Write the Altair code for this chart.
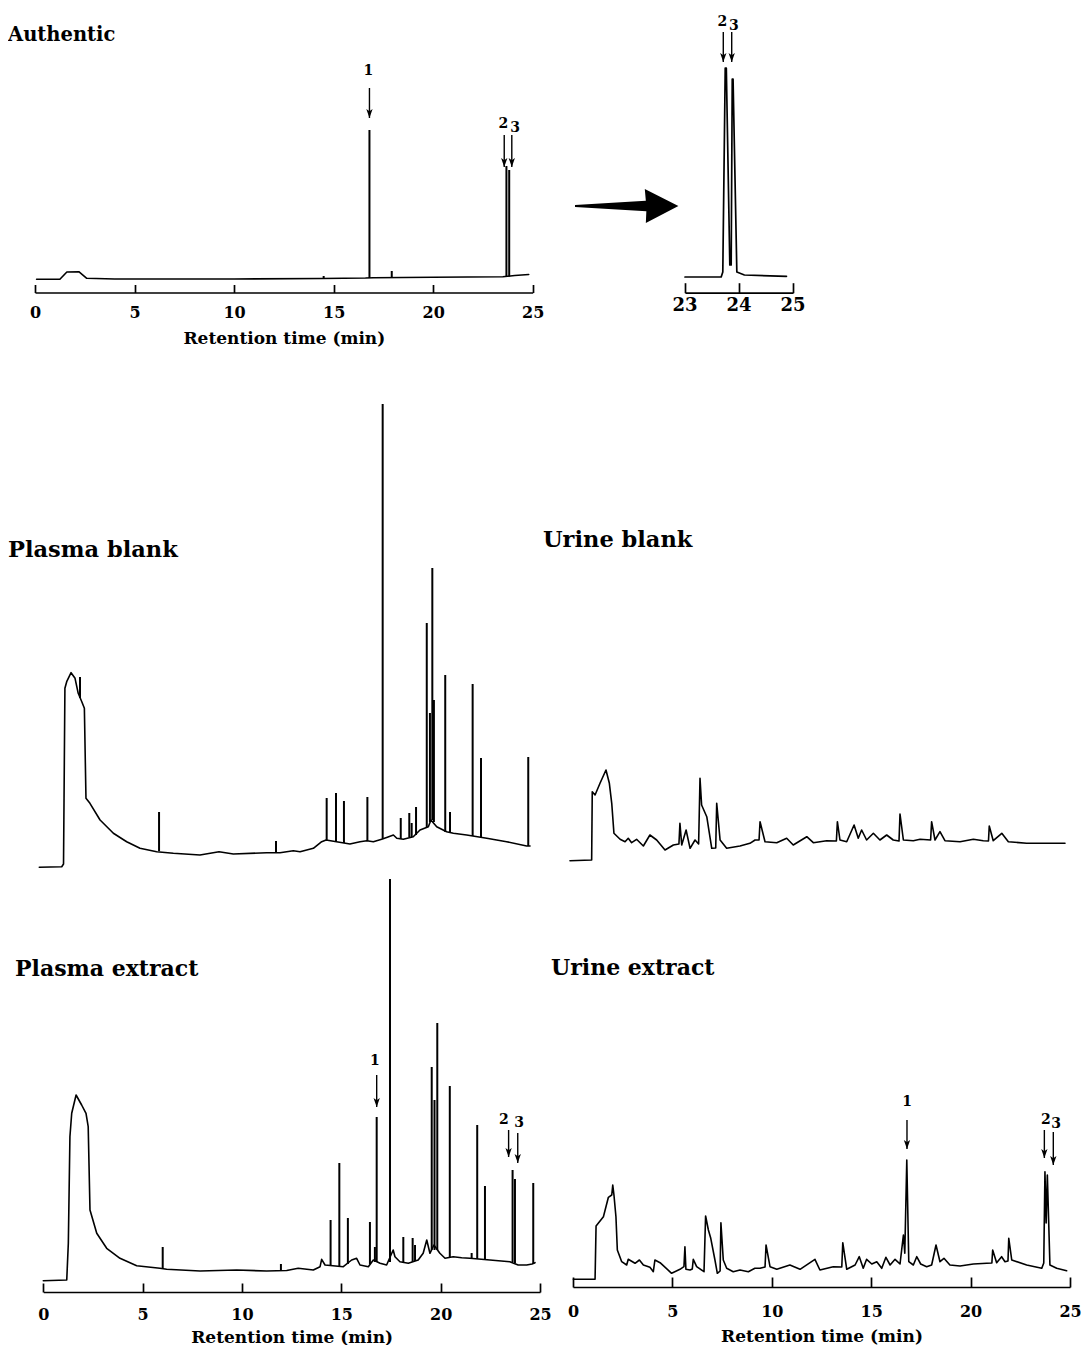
import altair as alt
import pandas as pd

FONT = "DejaVu Serif"
OX, OY = 8, 8          # page margin: plot origin on the page
W, H = 1074, 1337

# ---------------- Authentic (0-25 min) ----------------
au_t = [0.08, 1.25, 1.6, 2.2, 2.6, 4.0, 10.0, 14.4, 16.6, 17.0, 20.0, 23.5, 24.1, 24.8]
au_v = [5.7, 5.7, 13, 13.3, 6.7, 6, 6, 6.5, 7, 7.3, 7.7, 8.3, 9.5, 10.5]
au_pk_t = [14.5, 16.8, 17.92, 23.68, 23.82]
au_pk_top = [9, 155, 14, 119, 115]
au_pk_foot = [6.5, 7, 7.3, 8.3, 8.5]
au_lab = ["1", "2", "3"]
au_lab_t = [16.75, 23.53, 24.12]
au_lab_v = [214, 161, 157]
au_arr_t = [16.8, 23.57, 23.95]
au_arr_top = [197, 150, 150]
au_arr_tip = [167, 118, 118]
ticks_main = [0, 5, 10, 15, 20, 25]

# ---------------- Inset (23-25 min) ----------------
in_t = [23.0, 23.67, 23.70, 23.745, 23.765, 23.83, 23.855, 23.875, 23.89, 23.96, 24.1, 24.88]
in_v = [8, 8, 13, 217, 217, 20, 20, 206, 206, 13, 10, 8.7]
in_lab = ["2", "3"]
in_lab_t = [23.69, 23.907]
in_lab_v = [263, 259]
in_arr_t = [23.709, 23.865]
in_arr_top = [253, 253]
in_arr_tip = [223, 223]
ticks_inset = [23, 24, 25]
ticks_inset_text = ["23", "24", "25"]

# ---------------- Plasma blank ----------------
pb_t = [0.04, 1.17, 1.26, 1.33, 1.42, 1.64, 1.84, 2.0, 2.18, 2.31, 2.39, 2.59, 3.10, 3.77,
        4.44, 5.11, 5.95, 6.79, 8.13, 9.09, 9.81, 11.49, 12.16, 12.83, 13.17, 13.84, 14.26,
        14.48, 15.68, 16.19, 16.53, 16.86, 17.28, 17.6, 17.87, 18.04, 18.37, 18.87, 19.21,
        19.63, 19.76, 20.05, 20.55, 20.89, 21.56, 22.57, 23.57, 24.58, 24.75]
pb_v = [2.7, 3.3, 6, 181.7, 188.3, 197.3, 191.7, 176.7, 168.3, 161.7, 71.7, 66.7, 50, 36.7,
        28.3, 21.7, 18.3, 16.7, 15, 18.3, 16, 17.3, 17.3, 19.3, 18.3, 21.7, 28.3,
        30, 26, 28.3, 29.3, 28.3, 30.7, 33, 35, 31.7, 30.7, 33.3, 40,
        43.3, 50, 43.3, 38.3, 36.7, 35, 31.7, 28.3, 24, 24]
pb_pk_t = [2.09, 6.07, 11.96, 14.51, 14.98, 15.38, 16.56, 17.33, 18.24, 18.67, 18.79, 19.01,
           19.55, 19.71, 19.83, 19.91, 20.48, 20.72, 21.86, 22.28, 24.66]
pb_pk_top = [193, 58, 29, 72, 77, 69, 73, 466, 52, 57, 47, 63,
             247, 157, 302, 170, 195, 58, 186, 112, 113]
pb_pk_foot = [172, 19, 17, 30, 28, 27, 29, 31, 31, 33, 33, 35,
              43, 48, 50, 48, 38, 37, 34, 33, 24]

# ---------------- Urine blank ----------------
ub_t = [0.05, 1.14, 1.17, 1.31, 1.56, 1.86, 2.03, 2.15, 2.26, 2.57,
        2.82, 2.98, 3.15, 3.4, 3.74, 4.07, 4.41, 4.83, 5.25, 5.53, 5.58,
        5.67, 5.89, 6.09, 6.34, 6.52, 6.59, 6.67, 6.93, 7.18, 7.38, 7.43, 7.6,
        7.93, 8.6, 9.1, 9.36, 9.56, 9.61, 9.86, 10.45, 10.95, 11.28, 11.96,
        12.29, 12.96, 13.45, 13.5, 13.63, 13.97, 14.34, 14.55, 14.72, 14.97, 15.31,
        15.64, 15.98, 16.31, 16.6, 16.65, 16.82, 17.32, 17.66, 18.19, 18.24, 18.41, 18.66,
        18.91, 19.67, 20.34, 20.84, 21.1, 21.14, 21.34, 21.77, 22.1, 23.02, 23.86, 24.95]
ub_v = [3.3, 4, 72.3, 69, 80.7, 94, 80.7, 60.7, 30.7, 24.7,
        22.3, 25.7, 21.3, 24.7, 18, 29, 24, 14, 19, 20, 40.7,
        19, 34, 15.7, 24, 20, 85.7, 59, 47.3, 15.7, 16, 60.7, 24,
        15.7, 18, 20.7, 24, 24, 42.3, 22.3, 21.3, 25.7, 19, 27.3,
        21.3, 23.3, 23, 42.3, 24, 22.3, 39, 25.7, 34, 24, 30.7,
        24, 29, 24, 23, 50, 24, 23.3, 24.7, 24, 42.3, 24, 32.3,
        23.3, 22.3, 24.7, 23.3, 23, 38, 23.3, 30.7, 22.3, 20.7, 20.7, 20.7]

# ---------------- Plasma extract ----------------
pe_t = [0.0, 1.18, 1.26, 1.34, 1.43, 1.65, 1.93, 2.15, 2.26, 2.35, 2.69, 3.19, 3.86, 4.7,
        5.87, 6.21, 7.89, 9.73, 11.24, 12.25, 12.83, 13.59, 13.93, 14.01, 14.18, 15.1,
        15.52, 15.77, 15.94, 16.36, 16.61, 16.95, 17.28, 17.61, 17.7, 17.95, 18.37, 18.87,
        19.12, 19.3, 19.46, 19.66, 19.96, 20.22, 20.63, 21.06, 21.47, 22.48, 23.48, 23.9,
        24.33, 24.6, 24.75]
pe_v = [3.3, 4, 40.7, 147.3, 170.7, 189, 179, 170.7, 157.3, 74, 50.7, 35.7, 25.7, 18.3,
        15.7, 14.7, 13, 14, 13, 13.5, 15.7, 14, 17.3, 24.7, 19, 17.3,
        24, 25.7, 19, 17.3, 24, 20.7, 19, 34, 27.3, 22.3, 20.7, 24,
        30.7, 44, 30.7, 39, 30.7, 25.7, 27.3, 26.3, 25.7, 24, 22.3, 19,
        19, 20, 21.3]
pe_pk_t = [6.01, 11.96, 14.46, 14.9, 15.33, 16.44, 16.69, 16.78, 17.45, 18.12, 18.59, 18.71,
           19.55, 19.69, 19.83, 20.46, 21.56, 21.84, 22.23, 23.62, 23.74, 24.66]
pe_pk_top = [37, 20, 64, 121, 66, 62, 37, 167, 405, 47, 46, 39,
             217, 184, 261, 198, 31, 159, 98, 114, 105, 101]
pe_pk_foot = [15, 13.5, 18, 18, 20, 20, 22, 22, 22, 22, 22, 23,
              34, 34, 34, 27, 26, 25, 25, 22, 21, 20]
pe_lab = ["1", "2", "3"]
pe_lab_t = [16.69, 23.18, 23.95]
pe_lab_v = [223, 164, 161]
pe_arr_t = [16.78, 23.42, 23.88]
pe_arr_top = [209, 154, 151]
pe_arr_tip = [177, 127, 121]

# ---------------- Urine extract ----------------
ue_t = [0.02, 1.11, 1.16, 1.27, 1.53, 1.78, 1.95, 2.0, 2.06, 2.16, 2.23, 2.45, 2.7, 2.78,
        3.12, 3.34, 3.54, 3.87, 4.04, 4.12, 4.38, 4.96, 5.38, 5.58, 5.63, 5.68, 5.89, 6.0,
        6.05, 6.22, 6.59, 6.67, 6.81, 6.93, 7.14, 7.26, 7.4, 7.44, 7.56, 7.73, 8.06, 8.4,
        8.82, 9.15, 9.41, 9.66, 9.71, 9.91, 10.25, 10.91, 11.42, 12.17, 12.42, 13.09, 13.52,
        13.57, 13.77, 14.19, 14.4, 14.6, 14.77, 15.03, 15.28, 15.53, 15.74, 15.95, 16.2,
        16.45, 16.62, 16.69, 16.79, 16.89, 17.12, 17.29, 17.49, 17.79, 18.04, 18.26, 18.46,
        18.66, 18.96, 19.47, 20.14, 20.81, 21.07, 21.11, 21.31, 21.56, 21.73, 21.88, 21.92,
        22.07, 22.82, 23.58, 23.68, 23.74, 23.8, 23.86, 23.99, 24.33, 24.83]
ue_v = [3.7, 3.7, 57, 59.7, 66.3, 85.7, 88, 98, 88, 66.3, 33, 21.3, 18, 23.7,
        19.7, 23, 18, 15.7, 11.3, 23, 20.3, 9.7, 13.7, 16.3, 36.3, 13.7, 13, 14,
        23.7, 16.3, 11.3, 67, 53, 44.7, 23, 9.7, 12, 60.3, 23, 14.7, 11.3, 13,
        11.3, 14.7, 14.7, 16, 38, 16.3, 13.7, 18, 13.7, 23.7, 13, 16.3, 16,
        40.3, 13.7, 18, 26.3, 14.7, 23.7, 19, 21.3, 14.7, 25.7, 18, 23.7,
        19, 48, 29.7, 123, 21.3, 18, 26.3, 19, 16.3, 18, 38, 21.3,
        24.7, 18, 17, 19, 19.7, 20, 33, 20.3, 26.3, 21.3, 22, 44.7,
        23, 18, 14.7, 20, 111.3, 60, 108, 18, 14.7, 12.3]
ue_lab = ["1", "2", "3"]
ue_lab_t = [16.81, 23.79, 24.3]
ue_lab_v = [181, 163, 159]
ue_arr_t = [16.8, 23.71, 24.16]
ue_arr_top = [163, 153, 151]
ue_arr_tip = [134, 125, 118]

# ---------------- panel titles ----------------
titles = ["Authentic", "Plasma blank", "Urine blank", "Plasma extract", "Urine extract"]
axis_title = "Retention time (min)"

for a, b in [(pb_t, pb_v), (ub_t, ub_v), (pe_t, pe_v), (ue_t, ue_v), (au_t, au_v), (in_t, in_v)]:
    assert len(a) == len(b), (len(a), len(b))

HEAD = "M-0.7,-2L0,0L0.7,-2L0,-1.5Z"
BIG = "M-1,-0.02L0.37,-0.1L0.35,-0.33L1,0L0.37,0.33L0.38,0.1L-1,0.02Z"


def sx(d0, d1, p0, p1):
    return alt.Scale(domain=[d0, d1], range=[p0 - OX, p1 - OX], nice=False, zero=False)


def sy(yref):
    return alt.Scale(domain=[0, 100], range=[yref - OY, yref - OY - 100], nice=False, zero=False)


def top_axis(axis_y, values, tick):
    return alt.Axis(orient="top", offset=-(axis_y - OY), values=values, labels=False,
                    ticks=True, tickSize=tick, tickWidth=1.7, tickColor="black",
                    domain=True, domainWidth=1.7, domainColor="black", grid=False, title=None)


def bottom_axis(axis_y, values, pad, size, title=None, tpad=0, tsize=17):
    kw = dict(orient="bottom", offset=(axis_y - OY) - H, values=values, labels=True,
              ticks=False, tickSize=0, domain=False, grid=False, labelPadding=pad,
              labelFont=FONT, labelFontSize=size, labelFontWeight="bold", labelColor="black",
              labelFlush=False, labelOverlap=False, format="d")
    if title:
        kw.update(title=title, titleFont=FONT, titleFontSize=tsize, titleFontWeight="bold",
                  titleColor="black", titlePadding=tpad)
    else:
        kw.update(title=None)
    return alt.Axis(**kw)


def line_layer(t, v, xs, ys, axis=None, width=1.6):
    df = pd.DataFrame({"t": t, "v": v, "i": list(range(len(t)))})
    return alt.Chart(df).mark_line(color="black", strokeWidth=width, strokeJoin="round",
                                   strokeCap="round").encode(
        x=alt.X("t:Q", scale=xs, axis=axis),
        y=alt.Y("v:Q", scale=ys, axis=None),
        order="i:Q")


def rule_layer(t, top, foot, xs, ys, width=2.0):
    df = pd.DataFrame({"t": t, "top": top, "foot": foot})
    return alt.Chart(df).mark_rule(color="black", strokeWidth=width).encode(
        x=alt.X("t:Q", scale=xs, axis=None),
        y=alt.Y("top:Q", scale=ys, axis=None),
        y2="foot:Q")


def label_layer(labels, t, v, xs, ys, size=14, axis=None):
    df = pd.DataFrame({"lab": labels, "t": t, "v": v})
    return alt.Chart(df).mark_text(font=FONT, fontSize=size, fontWeight="bold", color="black",
                                   baseline="middle", align="center").encode(
        x=alt.X("t:Q", scale=xs, axis=axis),
        y=alt.Y("v:Q", scale=ys, axis=None),
        text="lab:N")


def tick_text_layer(values, texts, xs, y_page, size):
    df = pd.DataFrame({"t": values, "lab": texts})
    return alt.Chart(df).mark_text(font=FONT, fontSize=size, fontWeight="bold", color="black",
                                   baseline="middle", align="center").encode(
        x=alt.X("t:Q", scale=xs, axis=None),
        y=alt.value(y_page - OY),
        text="lab:N")


def arrow_layers(t, top, tip, xs, ys):
    df = pd.DataFrame({"t": t, "top": top, "tip": tip})
    shaft = alt.Chart(df).mark_rule(color="black", strokeWidth=1.4).encode(
        x=alt.X("t:Q", scale=xs, axis=None),
        y=alt.Y("top:Q", scale=ys, axis=None),
        y2="tip:Q")
    head = alt.Chart(df).mark_point(shape=HEAD, size=81, filled=True, color="black",
                                    opacity=1, strokeWidth=0).encode(
        x=alt.X("t:Q", scale=xs, axis=None),
        y=alt.Y("tip:Q", scale=ys, axis=None))
    return [shaft, head]


def title_layer(text, x_page, y_page, size):
    df = pd.DataFrame({"txt": [text]})
    return alt.Chart(df).mark_text(font=FONT, fontSize=size, fontWeight="bold", color="black",
                                   align="left", baseline="alphabetic").encode(
        x=alt.value(x_page - OX), y=alt.value(y_page - OY), text="txt:N")


layers = []

# Authentic
xs, ys = sx(0, 25, 35, 532.7), sy(285)
layers.append(line_layer(au_t, au_v, xs, ys, axis=top_axis(292.5, ticks_main, 8)))
layers.append(rule_layer(au_pk_t, au_pk_top, au_pk_foot, xs, ys))
layers.append(label_layer(au_lab, au_lab_t, au_lab_v, xs, ys,
                          axis=bottom_axis(292.5, ticks_main, 12, 16, axis_title, 10, 17)))
layers += arrow_layers(au_arr_t, au_arr_top, au_arr_tip, xs, ys)

# Inset
xs, ys = sx(23, 25, 685, 793), sy(285)
layers.append(line_layer(in_t, in_v, xs, ys, axis=top_axis(292.7, ticks_inset, 10), width=1.7))
layers.append(label_layer(in_lab, in_lab_t, in_lab_v, xs, ys))
layers.append(tick_text_layer(ticks_inset, ticks_inset_text, xs, 306, 18))
layers += arrow_layers(in_arr_t, in_arr_top, in_arr_tip, xs, ys)

# Big arrow
layers.append(alt.Chart(pd.DataFrame({"k": ["arrow"]})).mark_point(
    shape=BIG, size=103.4 ** 2, filled=True, color="black", opacity=1, strokeWidth=0).encode(
    x=alt.value(626.7 - OX), y=alt.value(206 - OY)))

# Plasma blank
xs, ys = sx(0, 25, 38.5, 535), sy(870)
layers.append(line_layer(pb_t, pb_v, xs, ys))
layers.append(rule_layer(pb_pk_t, pb_pk_top, pb_pk_foot, xs, ys))

# Urine blank
xs, ys = sx(0, 25, 569, 1066), sy(864)
layers.append(line_layer(ub_t, ub_v, xs, ys))

# Plasma extract
xs, ys = sx(0, 25, 43.3, 540), sy(1284)
layers.append(line_layer(pe_t, pe_v, xs, ys, axis=top_axis(1292, ticks_main, 9)))
layers.append(rule_layer(pe_pk_t, pe_pk_top, pe_pk_foot, xs, ys))
layers.append(label_layer(pe_lab, pe_lab_t, pe_lab_v, xs, ys,
                          axis=bottom_axis(1292, ticks_main, 14, 16, axis_title, 7, 17)))
layers += arrow_layers(pe_arr_t, pe_arr_top, pe_arr_tip, xs, ys)

# Urine extract
xs, ys = sx(0, 25, 573, 1070), sy(1283)
layers.append(line_layer(ue_t, ue_v, xs, ys, axis=top_axis(1287, ticks_main, 10)))
layers.append(label_layer(ue_lab, ue_lab_t, ue_lab_v, xs, ys,
                          axis=bottom_axis(1287, ticks_main, 16, 16, axis_title, 9, 17)))
layers += arrow_layers(ue_arr_t, ue_arr_top, ue_arr_tip, xs, ys)

# Titles
layers.append(title_layer(titles[0], 8, 41, 19.5))
layers.append(title_layer(titles[1], 8, 557, 22.5))
layers.append(title_layer(titles[2], 543, 547, 22.5))
layers.append(title_layer(titles[3], 15, 976, 22))
layers.append(title_layer(titles[4], 551, 975, 22))

chart = alt.layer(*layers).resolve_scale(x="independent", y="independent").properties(
    width=W, height=H, padding=0, background="white",
    autosize=alt.AutoSizeParams(type="none"),
).configure_view(stroke=None)

chart.save("out.html", embed_options={"renderer": "svg", "actions": False})
